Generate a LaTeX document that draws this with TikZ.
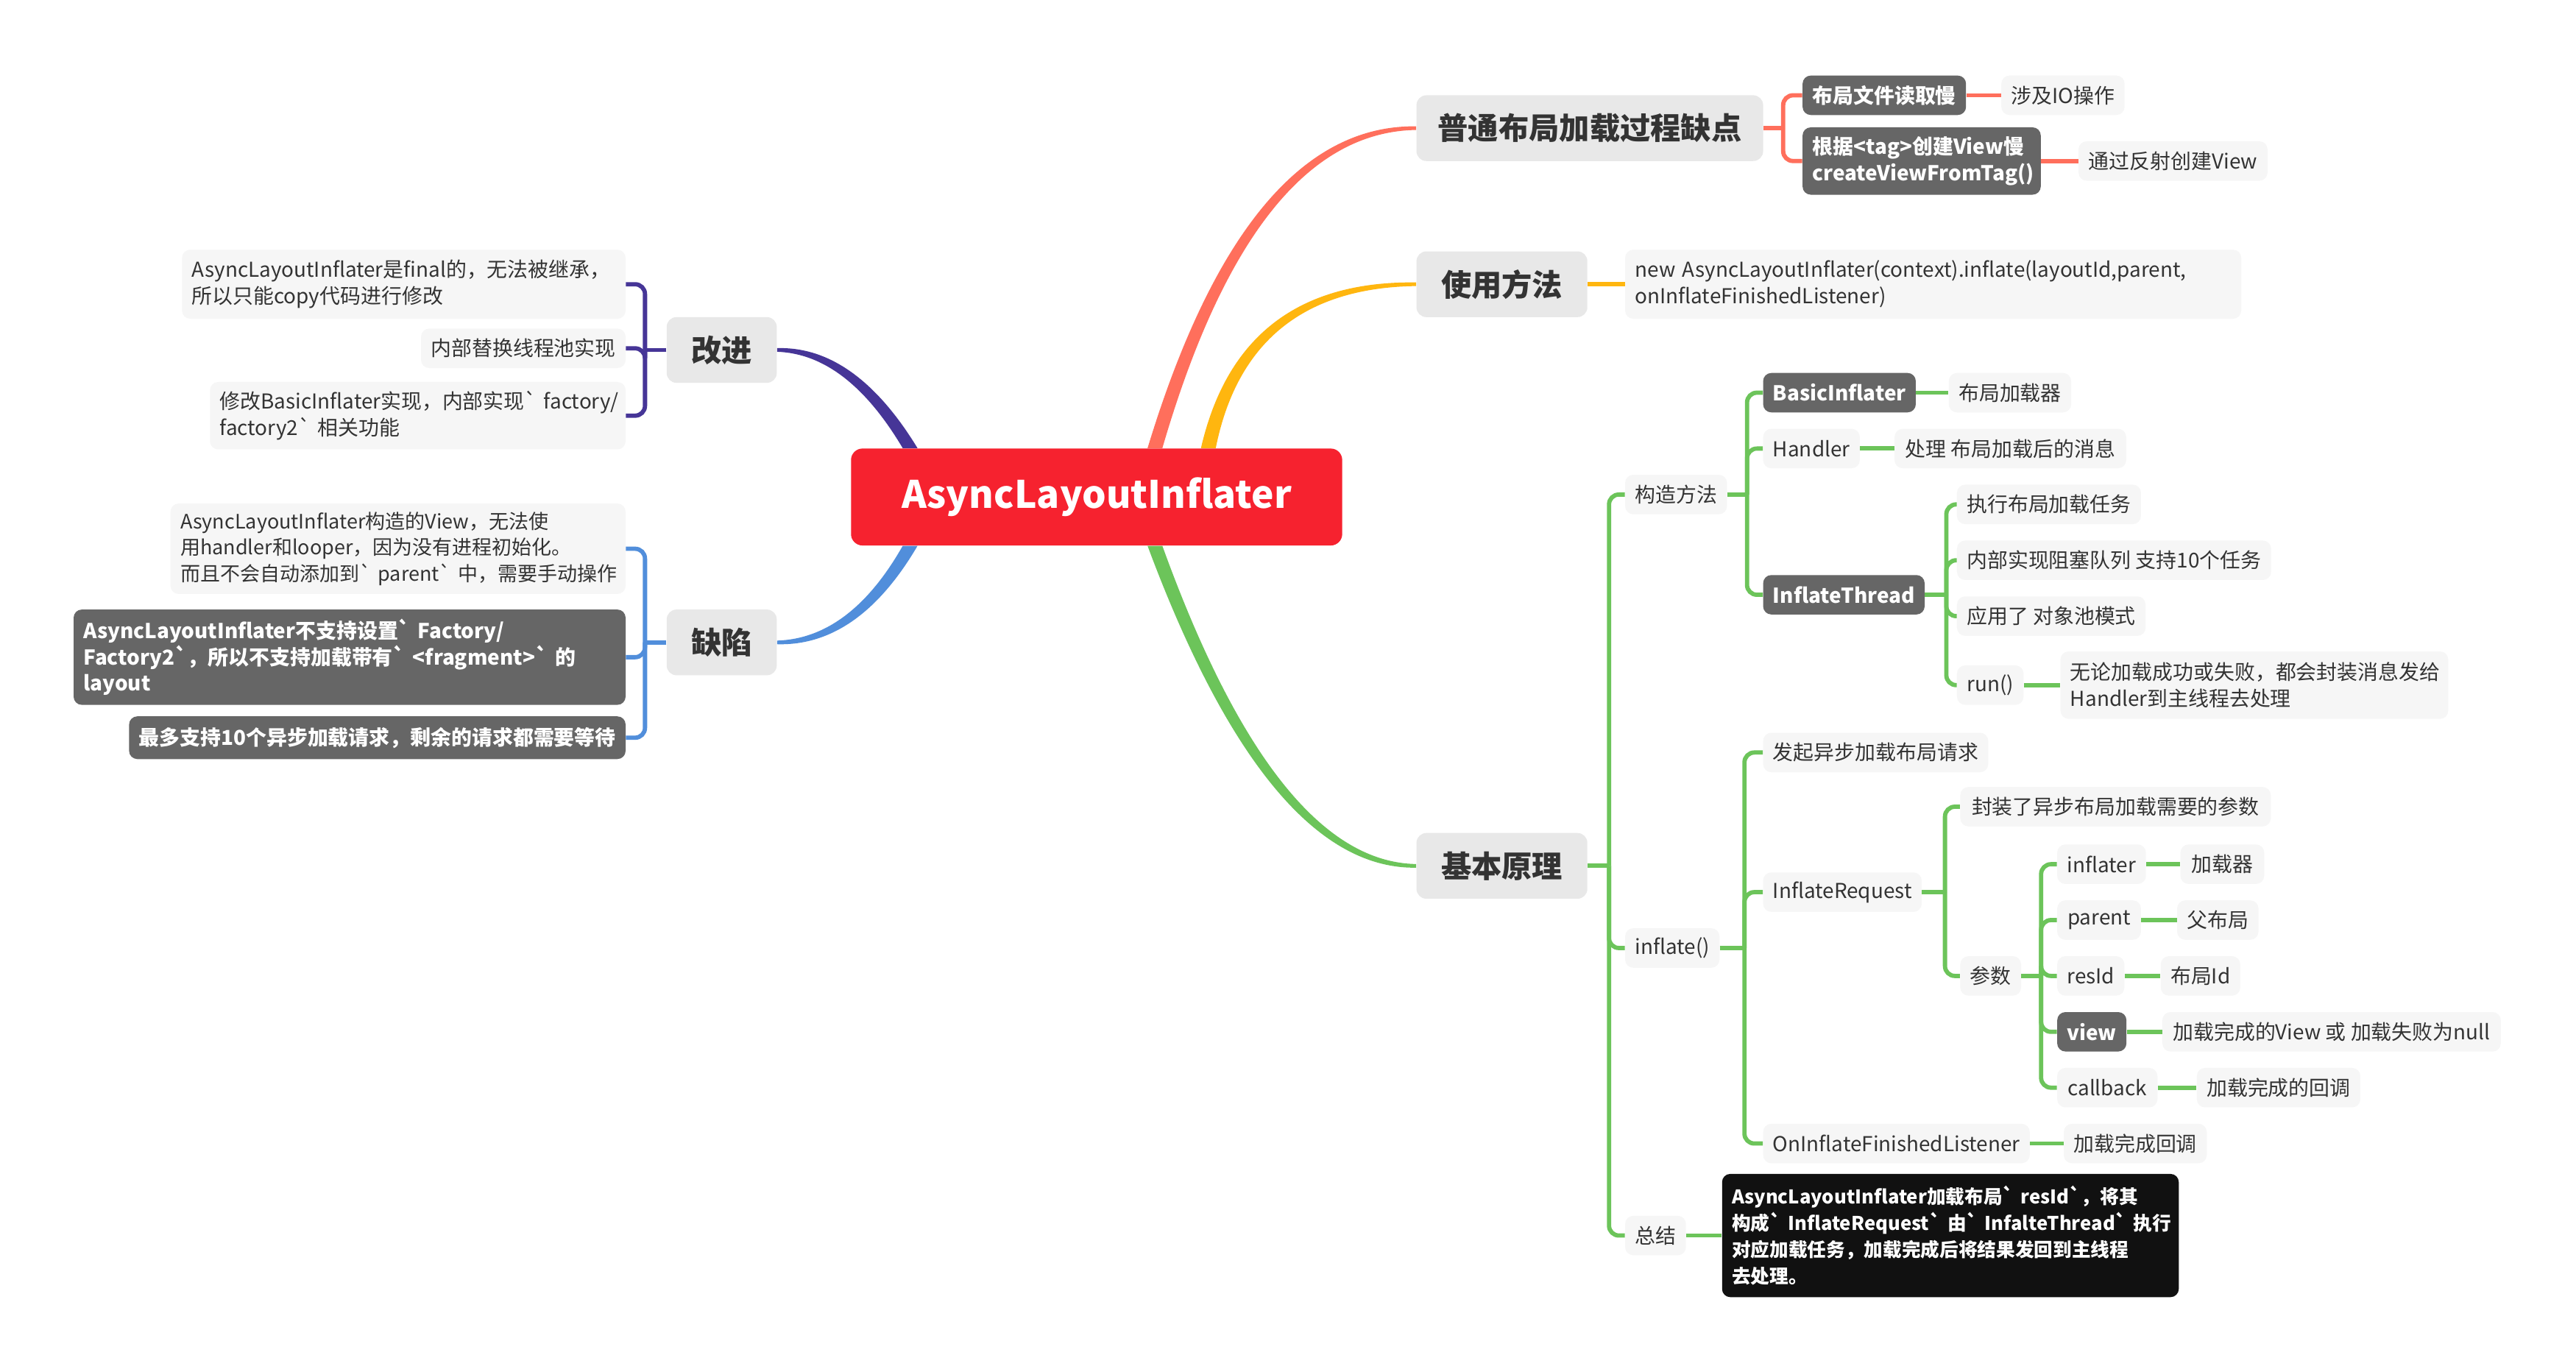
\documentclass[tikz,border=0pt]{standalone}
\usepackage{fontspec}
\newfontfamily\nf{Noto Sans CJK SC}
\usetikzlibrary{calc,backgrounds}
\definecolor{rootred}{HTML}{F6222F}
\definecolor{mainfill}{HTML}{E8E8E8}
\definecolor{ltfill}{HTML}{F6F6F6}
\definecolor{dkfill}{HTML}{666666}
\definecolor{blk}{HTML}{111111}
\definecolor{txt}{HTML}{333333}
\definecolor{csal}{HTML}{FF6F5C}
\definecolor{corg}{HTML}{FFB60F}
\definecolor{cgrn}{HTML}{6CC45A}
\definecolor{cpur}{HTML}{463597}
\definecolor{cblu}{HTML}{518EDB}
\tikzset{
 lt/.style={fill=ltfill, text=txt, rounded corners=5pt, inner xsep=6pt, inner ysep=0pt, minimum height=24pt, font=\nf\fontsize{12.5}{16}\selectfont},
 dk/.style={lt, fill=dkfill, text=white, font=\nf\bfseries\fontsize{12.5}{16}\selectfont},
 bk/.style={dk, fill=blk, font=\nf\bfseries\fontsize{11.5}{16}\selectfont},
 mainb/.style={fill=mainfill, text=txt, rounded corners=6pt, inner xsep=0pt, inner ysep=0pt, minimum height=40pt, font=\nf\bfseries\fontsize{18.5}{22}\selectfont},
 rootn/.style={fill=rootred, text=white, rounded corners=7pt, minimum width=299pt, minimum height=59pt, font=\nf\bfseries\fontsize{23}{28}\selectfont},
 cn/.style={line width=2.6pt, rounded corners=6pt},
}
% tapered main branch: #1 start, #2 quadratic control, #3 end, #4 colour, #5 #6 signs of outer edge
\newcommand\branchcurve[6]{%
 \path #1 coordinate (tS) #2 coordinate (tQ) #3 coordinate (tE);
 \coordinate (tSa) at ($(tS)+(#5*4.5,0)$);
 \coordinate (tQa) at ($(tQ)+(#5*2.5,#6*2.5)$);
 \coordinate (tEa) at ($(tE)+(0,#6*1.1)$);
 \coordinate (tSb) at ($(tS)+(-1*#5*4.5,0)$);
 \coordinate (tQb) at ($(tQ)+(-1*#5*2.5,-1*#6*2.5)$);
 \coordinate (tEb) at ($(tE)+(0,-1*#6*1.1)$);
 \fill[#4] (tSa) .. controls ($(tSa)!0.6667!(tQa)$) and ($(tEa)!0.6667!(tQa)$) .. (tEa)
   -- (tEb) .. controls ($(tEb)!0.6667!(tQb)$) and ($(tSb)!0.6667!(tQb)$) .. (tSb) -- cycle;
}
\begin{document}
\begin{tikzpicture}[x=1pt,y=-1pt]
\useasboundingbox (0,0) rectangle (1568,835);
\begin{scope}[on background layer]
\fill[white] (0,0) rectangle (1568,835);
\end{scope}

% ---- nodes ----
\node[rootn] (root) at (667.5,302.5) {AsyncLayoutInflater};
\node[mainb, anchor=west, minimum width=211pt] (m1) at (862,78) {普通布局加载过程缺点};
\node[mainb, anchor=west, minimum width=104pt] (m2) at (862,173) {使用方法};
\node[mainb, anchor=west, minimum width=104pt] (m3) at (862,527) {基本原理};
\node[mainb, anchor=east, minimum width=67pt] (m4) at (473,213) {改进};
\node[mainb, anchor=east, minimum width=67pt] (m5) at (473,391) {缺陷};

% m1
\node[dk, anchor=west, minimum width=98pt] (a1) at (1097,58) {布局文件读取慢};
\node[lt, anchor=west, minimum width=75pt] (a1x) at (1218,58) {涉及IO操作};
\node[dk, anchor=west, text width=133pt, align=left, minimum height=41pt] (a2) at (1097,98) {\mbox{根据<tag>创建View慢}\\\mbox{createViewFromTag()}};
\node[lt, anchor=west, minimum width=115pt] (a2x) at (1265,98) {通过反射创建View};
% m2
\node[lt, anchor=west, text width=363pt, align=left, minimum height=42pt] (b1) at (989,173) {\mbox{new AsyncLayoutInflater(context).inflate(layoutId,parent,}\\\mbox{onInflateFinishedListener)}};
% m3
\node[lt, anchor=west, minimum width=60pt] (c1) at (989,301) {构造方法};
\node[dk, anchor=west, minimum width=89pt] (c11) at (1073,239) {BasicInflater};
\node[lt, anchor=west, minimum width=72pt] (c11x) at (1186,239) {布局加载器};
\node[lt, anchor=west, minimum width=56pt] (c12) at (1073,273) {Handler};
\node[lt, anchor=west, minimum width=141pt] (c12x) at (1153,273) {处理 布局加载后的消息};
\node[dk, anchor=west, minimum width=94pt] (c13) at (1073,362) {InflateThread};
\node[lt, anchor=west, minimum width=110pt] (t1) at (1191,307) {执行布局加载任务};
\node[lt, anchor=west, minimum width=189pt] (t2) at (1191,341) {内部实现阻塞队列 支持10个任务};
\node[lt, anchor=west, minimum width=114pt] (t3) at (1191,375) {应用了 对象池模式};
\node[lt, anchor=west, minimum width=38pt] (t4) at (1191,417) {run()};
\node[lt, anchor=west, text width=224pt, align=left, minimum height=41pt] (t4x) at (1254,417) {\mbox{无论加载成功或失败，都会封装消息发给}\\\mbox{Handler到主线程去处理}};

\node[lt, anchor=west, minimum width=57pt] (c2) at (989,577) {inflate()};
\node[lt, anchor=west, minimum width=134pt] (r1) at (1073,458) {发起异步加载布局请求};
\node[lt, anchor=west, minimum width=95pt] (r2) at (1073,543) {InflateRequest};
\node[lt, anchor=west, minimum width=189pt] (q1) at (1193,491) {封装了异步布局加载需要的参数};
\node[lt, anchor=west, minimum width=35pt] (q2) at (1193,594) {参数};
\node[lt, anchor=west, minimum width=54pt] (p1) at (1252,526) {inflater};
\node[lt, anchor=west, minimum width=51pt] (p1x) at (1327,526) {加载器};
\node[lt, anchor=west, minimum width=51pt] (p2) at (1252,560) {parent};
\node[lt, anchor=west, minimum width=49pt] (p2x) at (1325,560) {父布局};
\node[lt, anchor=west, minimum width=36pt] (p3) at (1252,594) {resId};
\node[lt, anchor=west, minimum width=44pt] (p3x) at (1315,594) {布局Id};
\node[dk, anchor=west, minimum width=39pt] (p4) at (1252,628) {view};
\node[lt, anchor=west, minimum width=206pt] (p4x) at (1316,628) {加载完成的View 或 加载失败为null};
\node[lt, anchor=west, minimum width=61pt] (p5) at (1252,662) {callback};
\node[lt, anchor=west, minimum width=97pt] (p5x) at (1337,662) {加载完成的回调};
\node[lt, anchor=west, minimum width=160pt] (r3) at (1073,696) {OnInflateFinishedListener};
\node[lt, anchor=west, minimum width=84pt] (r3x) at (1256,696) {加载完成回调};

\node[lt, anchor=west, minimum width=37pt] (c3) at (989,752) {总结};
\node[bk, anchor=west, text width=266pt, align=left, minimum height=75pt] (c3x) at (1048,752) {\mbox{AsyncLayoutInflater加载布局` resId`，将其}\\\mbox{构成` InflateRequest` 由` InfalteThread` 执行}\\\mbox{对应加载任务，加载完成后将结果发回到主线程}\\\mbox{去处理。}};

% m4
\node[lt, anchor=east, text width=258pt, align=left, minimum height=42pt] (d1) at (381,173) {\mbox{AsyncLayoutInflater是final的，无法被继承，}\\\mbox{所以只能copy代码进行修改}};
\node[lt, anchor=east, minimum width=123pt] (d2) at (381,212) {内部替换线程池实现};
\node[lt, anchor=east, text width=241pt, align=left, minimum height=41pt] (d3) at (381,253) {\mbox{修改BasicInflater实现，内部实现` factory/}\\\mbox{factory2` 相关功能}};
% m5
\node[lt, anchor=east, text width=265pt, align=left, minimum height=55pt, font=\nf\fontsize{12.1}{16}\selectfont] (e1) at (381,334) {\mbox{AsyncLayoutInflater构造的View，无法使}\\\mbox{用handler和looper，因为没有进程初始化。}\\\mbox{而且不会自动添加到` parent` 中，需要手动操作}};
\node[dk, anchor=east, text width=324pt, align=left, minimum height=58pt] (e2) at (381,400) {\mbox{AsyncLayoutInflater不支持设置` Factory/}\\\mbox{Factory2`，所以不支持加载带有` <fragment>` 的}\\\mbox{layout}};
\node[dk, anchor=east, minimum width=301pt, minimum height=26pt] (e3) at (381,449) {最多支持10个异步加载请求，剩余的请求都需要等待};

% ---- main tapered branches ----
\begin{scope}[on background layer]
\branchcurve{($(root.north)+(35.5,0)$)}{($(m1.west)+(-101,0)$)}{(m1.west)}{csal}{-1}{-1}
\branchcurve{($(root.north)+(68,0)$)}{($(m2.west)+(-105,0)$)}{(m2.west)}{corg}{-1}{-1}
\branchcurve{($(root.south)+(35.5,0)$)}{($(m3.west)+(-87.5,0)$)}{(m3.west)}{cgrn}{-1}{1}
\branchcurve{($(root.north)+(-113.5,0)$)}{($(m4.east)+(45,0)$)}{(m4.east)}{cpur}{1}{-1}
\branchcurve{($(root.south)+(-113.5,0)$)}{($(m5.east)+(47,0)$)}{(m5.east)}{cblu}{1}{1}
\end{scope}

% ---- connectors ----
\coordinate (k1) at ($(m1.east)+(12,0)$);
\draw[cn,csal] (m1.east) -- (k1);
\draw[cn,csal] (k1) |- (a1.west);
\draw[cn,csal] (k1) |- (a2.west);
\draw[cn,csal] (a1.east) -- (a1x.west);
\draw[cn,csal] (a2.east) -- (a2x.west);

\draw[cn,corg] (m2.east) -- (b1.west);

\coordinate (k3) at ($(m3.east)+(13,0)$);
\draw[cn,cgrn] (m3.east) -- (k3);
\foreach \c in {c1,c2,c3} \draw[cn,cgrn] (k3) |- (\c.west);
\coordinate (kc1) at ($(c1.east)+(12,0)$);
\draw[cn,cgrn] (c1.east) -- (kc1);
\foreach \c in {c11,c12,c13} \draw[cn,cgrn] (kc1) |- (\c.west);
\draw[cn,cgrn] (c11.east) -- (c11x.west);
\draw[cn,cgrn] (c12.east) -- (c12x.west);
\coordinate (kt) at ($(c13.east)+(13,0)$);
\draw[cn,cgrn] (c13.east) -- (kt);
\foreach \c in {t1,t2,t3,t4} \draw[cn,cgrn] (kt) |- (\c.west);
\draw[cn,cgrn] (t4.east) -- (t4x.west);
\coordinate (kc2) at ($(c2.east)+(15,0)$);
\draw[cn,cgrn] (c2.east) -- (kc2);
\foreach \c in {r1,r2,r3} \draw[cn,cgrn] (kc2) |- (\c.west);
\coordinate (kr2) at ($(r2.east)+(14,0)$);
\draw[cn,cgrn] (r2.east) -- (kr2);
\foreach \c in {q1,q2} \draw[cn,cgrn] (kr2) |- (\c.west);
\coordinate (kq2) at ($(q2.east)+(12,0)$);
\draw[cn,cgrn] (q2.east) -- (kq2);
\foreach \c in {p1,p2,p3,p4,p5} \draw[cn,cgrn] (kq2) |- (\c.west);
\foreach \c in {p1,p2,p3,p4,p5} \draw[cn,cgrn] (\c.east) -- (\c x.west);
\draw[cn,cgrn] (r3.east) -- (r3x.west);
\draw[cn,cgrn] (c3.east) -- (c3x.west);

\coordinate (k4) at ($(m4.west)+(-13,0)$);
\draw[cn,cpur] (m4.west) -- (k4);
\foreach \c in {d1,d2,d3} \draw[cn,cpur] (k4) |- (\c.east);
\coordinate (k5) at ($(m5.west)+(-13,0)$);
\draw[cn,cblu] (m5.west) -- (k5);
\foreach \c in {e1,e2,e3} \draw[cn,cblu] (k5) |- (\c.east);
\end{tikzpicture}
\end{document}
